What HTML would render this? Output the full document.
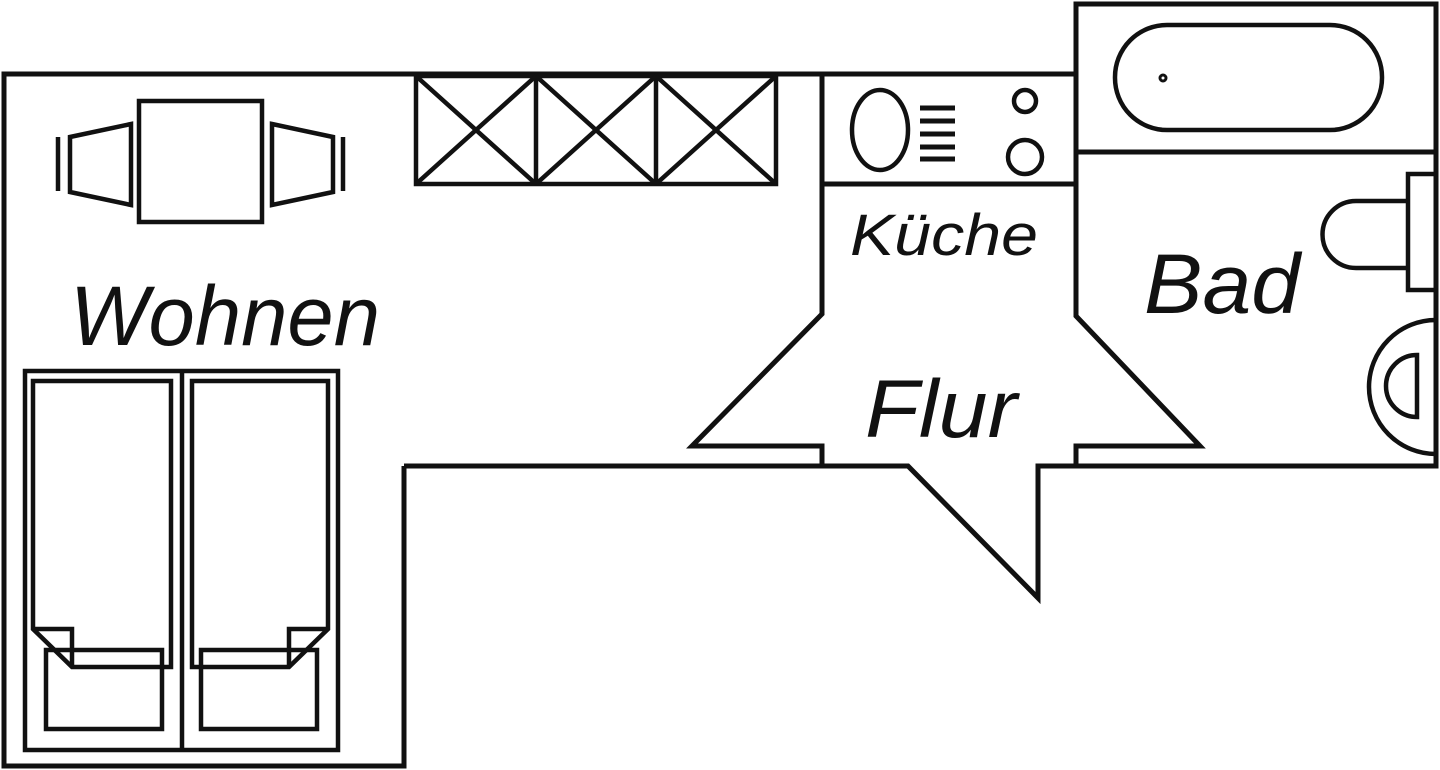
<!DOCTYPE html>
<html><head><meta charset="utf-8"><style>html,body{margin:0;padding:0;background:#fff}svg{display:block}</style></head>
<body>
<svg width="1440" height="770" viewBox="0 0 1440 770" xmlns="http://www.w3.org/2000/svg">
<g fill="none" stroke="#111" stroke-width="5" stroke-linejoin="miter">
<!-- walls -->
<path d="M404,466 L404,766 L4,766 L4,74 L1076,74"/>
<path d="M1076,74 L1076,4 L1436,4 L1436,466 L1038,466 L1038,598 L908,466 L404,466"/>
<path d="M1076,74 L1076,316 L1200,446 L1076,446 L1076,466"/>
<path d="M822,74 L822,314 L692,446 L822,446 L822,466"/>
<line x1="822" y1="184" x2="1076" y2="184"/>
<line x1="1076" y1="152" x2="1436" y2="152"/>
</g>
<g fill="none" stroke="#111" stroke-width="4.5">
<!-- table & chairs -->
<rect x="139" y="101" width="123" height="121"/>
<polygon points="70,137 131,124 131,205 70,192"/>
<line x1="58" y1="137" x2="58" y2="191"/>
<polygon points="272,124 333,137 333,192 272,205"/>
<line x1="343" y1="137" x2="343" y2="191"/>
<!-- wardrobe -->
<rect x="416" y="76" width="360" height="108"/>
<line x1="536" y1="76" x2="536" y2="184"/><line x1="656" y1="76" x2="656" y2="184"/>
<path d="M416,76 L536,184 M536,76 L416,184 M536,76 L656,184 M656,76 L536,184 M656,76 L776,184 M776,76 L656,184"/>
<!-- kitchen -->
<ellipse cx="880" cy="130" rx="28" ry="40"/>
<circle cx="1025" cy="101" r="11"/>
<circle cx="1025" cy="157" r="17"/>
<path d="M920,108 H955 M920,121 H955 M920,134 H955 M920,147 H955 M920,159 H955" stroke-width="5"/>
<!-- bath -->
<rect x="1115" y="25" width="267" height="105" rx="52"/>
<circle cx="1163" cy="78" r="3" stroke-width="3"/>
<rect x="1408" y="174" width="28" height="116"/>
<path d="M1408,201 H1356 A33.5,33.5 0 0 0 1356,268 H1408"/>
<path d="M1436,320 A67,67 0 0 0 1436,454"/>
<path d="M1417,355 A31,31 0 0 0 1417,417 Z"/>
<!-- beds -->
<rect x="25" y="371" width="313" height="379"/>
<line x1="182" y1="371" x2="182" y2="750"/>
<path d="M33,381 H171 V667 H72 L33,629 Z"/>
<path d="M33,629 H72 V667"/>
<rect x="46" y="650" width="116" height="79"/>
<path d="M192,381 H328 V629 L289,667 H192 Z"/>
<path d="M328,629 H289 V667"/>
<rect x="201" y="650" width="116" height="79"/>
</g>
<g fill="#111" font-family="Liberation Sans, sans-serif" font-style="italic">
<text x="70" y="345" font-size="84" textLength="310" lengthAdjust="spacingAndGlyphs">Wohnen</text>
<text x="850" y="255" font-size="58" textLength="188" lengthAdjust="spacingAndGlyphs">Küche</text>
<text x="1144" y="313" font-size="84" textLength="156" lengthAdjust="spacingAndGlyphs">Bad</text>
<text x="865" y="437" font-size="82" textLength="152" lengthAdjust="spacingAndGlyphs">Flur</text>
</g>
</svg>
</body></html>
